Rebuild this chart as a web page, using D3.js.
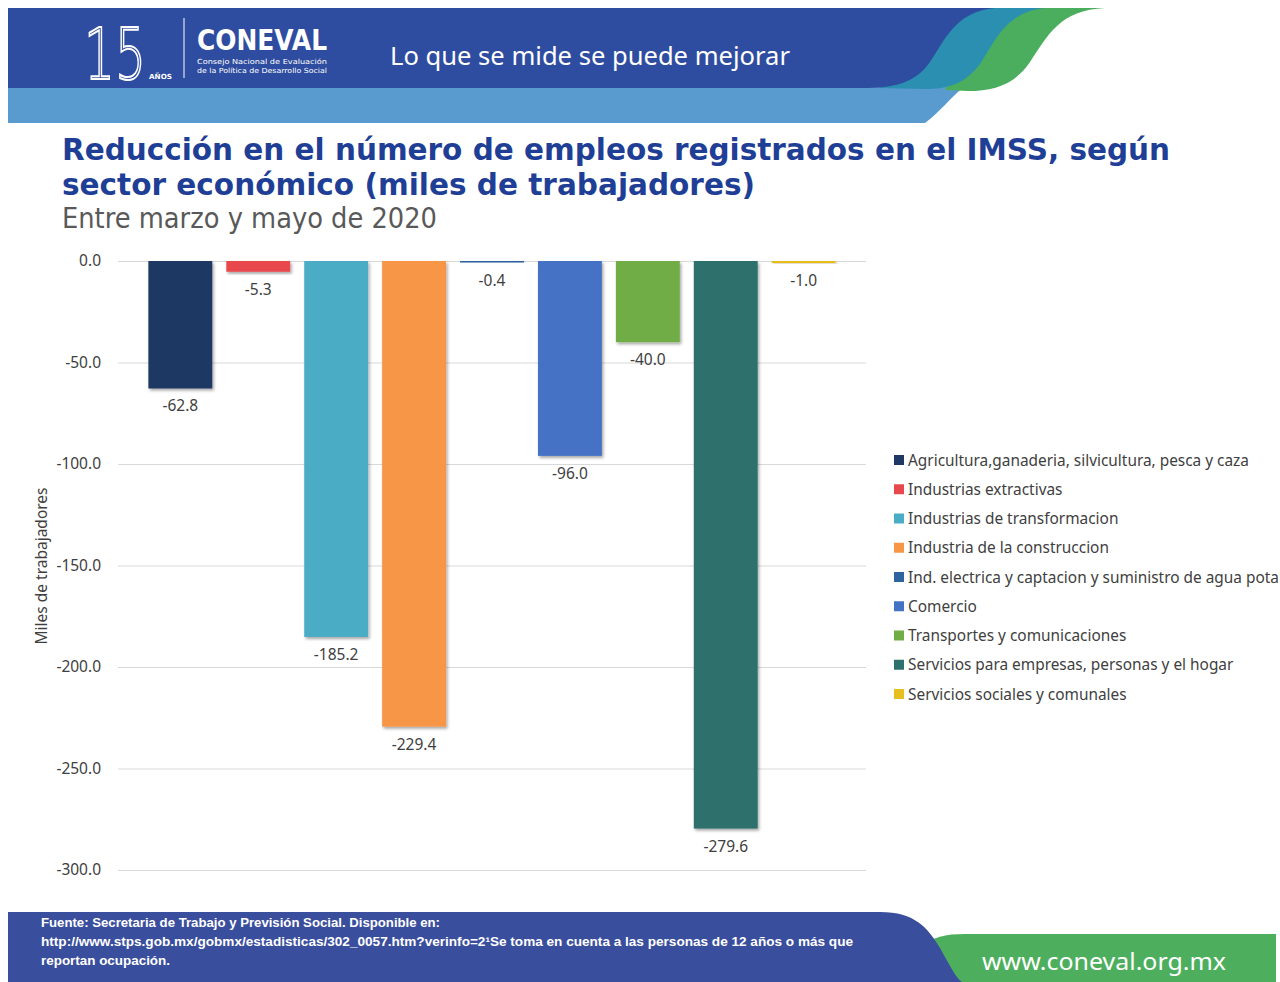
<!DOCTYPE html>
<html>
<head>
<meta charset="utf-8">
<script src="https://cdn.jsdelivr.net/npm/d3@7"></script>
<style>
  html, body { margin: 0; padding: 0; background: #fff; overflow: hidden; }
  svg { display: block; }
</style>
</head>
<body>
<svg id="chart" width="1280" height="982"></svg>
<script>
// series (one per sector, Excel style single category)
var sectores = [
  "Agricultura,ganaderia, silvicultura, pesca y caza",
  "Industrias extractivas",
  "Industrias de  transformacion",
  "Industria de la construccion",
  "Ind. electrica y captacion y suministro de agua potable",
  "Comercio",
  "Transportes y comunicaciones",
  "Servicios para empresas, personas y el hogar",
  "Servicios sociales y comunales"
];
var valores = [-62.8, -5.3, -185.2, -229.4, -0.4, -96.0, -40.0, -279.6, -1.0];
var colores = ["#1F3864", "#E8474C", "#4BACC6", "#F79646", "#2E64A0", "#4472C4", "#70AD47", "#2E716C", "#E6BE1E"];
var yTicks = [0, -50, -100, -150, -200, -250, -300];

var titulo1 = "Reducción en el número de empleos registrados en el IMSS, según";
var titulo2 = "sector económico (miles de trabajadores)";
var subtitulo = "Entre marzo y mayo de 2020";
var ejeY = "Miles de trabajadores";
var fuente = [
  "Fuente: Secretaria de Trabajo y Previsión Social. Disponible en:",
  "http://www.stps.gob.mx/gobmx/estadisticas/302_0057.htm?verinfo=2\u00b9Se toma en cuenta a las personas de 12 años o más que",
  "reportan ocupación."
];

var svg = d3.select("#chart");
var fmt = d3.formatLocale({decimal: ".", thousands: ",", grouping: [3], currency: ["$", ""], minus: "-"}).format(".1f");

var defs = svg.append("defs");
var sh = defs.append("filter").attr("id", "sombra").attr("x", "-20%").attr("y", "-20%").attr("width", "150%").attr("height", "150%");
sh.append("feDropShadow").attr("dx", 1.5).attr("dy", 2).attr("stdDeviation", 1.5).attr("flood-color", "#000").attr("flood-opacity", 0.35);

// ---- header banner ----
var head = svg.append("g");
head.append("path").attr("fill", "#5A9BCF")
  .attr("d", "M8,86 H965 C950,98 940,112 925,123 H8 Z");
head.append("path").attr("fill", "#4BAE5F")
  .attr("d", "M990,8 H1105 C1060,10 1048,35 1030,62 C1015,84 995,91 968,91 L945,90 Z");
head.append("path").attr("fill", "#2A8FB0")
  .attr("d", "M950,8 H1045 C1005,12 995,42 980,64 C965,84 948,89 925,89 L880,88 Z");
head.append("path").attr("fill", "#2F4DA0")
  .attr("d", "M8,8 H995 C955,12 945,40 930,62 C915,83 895,88 862,88 H8 Z");

// logo
head.append("text").attr("x", 84).attr("y", 79)
  .attr("font-family", "DejaVu Sans").attr("font-size", 72).attr("font-weight", 300)
  .attr("fill", "#2F4DA0").attr("stroke", "#fff").attr("stroke-width", 2)
  .attr("textLength", 62).attr("lengthAdjust", "spacingAndGlyphs")
  .text("15");
head.append("text").attr("x", 149).attr("y", 79)
  .attr("font-family", "DejaVu Sans").attr("font-size", 7).attr("font-weight", "bold")
  .attr("fill", "#fff").attr("textLength", 23).attr("lengthAdjust", "spacingAndGlyphs")
  .text("AÑOS");
head.append("line").attr("x1", 184).attr("x2", 184).attr("y1", 18).attr("y2", 78)
  .attr("stroke", "#fff").attr("stroke-width", 1);
head.append("text").attr("x", 197).attr("y", 50)
  .attr("font-family", "DejaVu Sans").attr("font-size", 28).attr("font-weight", "bold")
  .attr("fill", "#fff").attr("textLength", 130).attr("lengthAdjust", "spacingAndGlyphs")
  .text("CONEVAL");
head.append("text").attr("x", 197).attr("y", 64)
  .attr("font-family", "DejaVu Sans").attr("font-size", 7).attr("fill", "#fff")
  .attr("textLength", 130).attr("lengthAdjust", "spacingAndGlyphs")
  .text("Consejo Nacional de Evaluación");
head.append("text").attr("x", 197).attr("y", 73)
  .attr("font-family", "DejaVu Sans").attr("font-size", 7).attr("fill", "#fff")
  .attr("textLength", 130).attr("lengthAdjust", "spacingAndGlyphs")
  .text("de la Política de Desarrollo Social");
head.append("text").attr("x", 390).attr("y", 65)
  .attr("font-family", "Noto Sans").attr("font-size", 25).attr("fill", "#fff")
  .attr("textLength", 400).attr("lengthAdjust", "spacingAndGlyphs")
  .text("Lo que se mide se puede mejorar");

// ---- titles ----
svg.append("text").attr("x", 62).attr("y", 160)
  .attr("font-family", "DejaVu Sans").attr("font-weight", "bold").attr("font-size", 31)
  .attr("fill", "#1F3F96").attr("textLength", 1108).attr("lengthAdjust", "spacingAndGlyphs")
  .text(titulo1);
svg.append("text").attr("x", 62).attr("y", 195)
  .attr("font-family", "DejaVu Sans").attr("font-weight", "bold").attr("font-size", 31)
  .attr("fill", "#1F3F96").attr("textLength", 693).attr("lengthAdjust", "spacingAndGlyphs")
  .text(titulo2);
svg.append("text").attr("x", 62).attr("y", 228)
  .attr("font-family", "DejaVu Sans").attr("font-size", 28)
  .attr("fill", "#595959").attr("textLength", 375).attr("lengthAdjust", "spacingAndGlyphs")
  .text(subtitulo);

// ---- chart ----
var left = 118, right = 866;
var x = d3.scaleBand().domain(sectores).range([left, right]).paddingInner(0.18).paddingOuter(0.39);
var y = d3.scaleLinear().domain([0, -300]).range([261, 870]);

var grid = svg.append("g").attr("transform", "translate(" + left + ",0)")
  .call(d3.axisLeft(y).tickValues(yTicks).tickSize(-(right - left)).tickFormat(""));
grid.select(".domain").remove();
grid.selectAll("line").attr("stroke", "#D9D9D9").attr("stroke-width", 1);

var ax = svg.append("g").attr("transform", "translate(" + left + ",0)")
  .call(d3.axisLeft(y).tickValues(yTicks).tickSize(0).tickPadding(17).tickFormat(fmt));
ax.select(".domain").remove();
ax.selectAll("text").attr("font-family", "Noto Sans").attr("font-size", 15.5).attr("fill", "#404040");

svg.append("text")
  .attr("transform", "translate(47,566) rotate(-90)")
  .attr("text-anchor", "middle")
  .attr("font-family", "Noto Sans").attr("font-size", 15.5).attr("fill", "#404040")
  .text(ejeY);

svg.append("g").selectAll("rect")
  .data(valores)
  .enter()
  .append("rect")
  .attr("x", function(d, i) { return x(sectores[i]); })
  .attr("y", y(0))
  .attr("width", x.bandwidth())
  .attr("height", function(d) { return Math.max(1.5, y(d) - y(0)); })
  .attr("fill", function(d, i) { return colores[i]; })
  .attr("filter", "url(#sombra)");

svg.append("g").selectAll("text")
  .data(valores)
  .enter()
  .append("text")
  .attr("x", function(d, i) { return x(sectores[i]) + x.bandwidth() / 2; })
  .attr("y", function(d) { return Math.max(y(d), y(0) + 1.5) + 23; })
  .attr("text-anchor", "middle")
  .attr("font-family", "Noto Sans").attr("font-size", 15.5).attr("fill", "#404040")
  .text(function(d) { return fmt(d); });

// legend
var leg = svg.append("g").selectAll("g")
  .data(sectores)
  .enter()
  .append("g")
  .attr("transform", function(d, i) { return "translate(894," + (460 + i * 29.25) + ")"; });
leg.append("rect").attr("x", 0).attr("y", -5).attr("width", 10).attr("height", 10)
  .attr("fill", function(d, i) { return colores[i]; });
leg.append("text").attr("x", 14).attr("y", 5.5)
  .attr("font-family", "Noto Sans").attr("font-size", 15.4).attr("fill", "#404040")
  .text(function(d) { return d; });

// ---- footer ----
var foot = svg.append("g");
foot.append("path").attr("fill", "#4DAF5E")
  .attr("d", "M925,946 C932,937 945,934 965,934 H1276 V982 H940 Z");
foot.append("path").attr("fill", "#3A4E9E")
  .attr("d", "M8,912 H880 C915,912 928,928 940,948 C950,966 956,978 962,982 H8 Z");
foot.selectAll("text.fuente")
  .data(fuente)
  .enter()
  .append("text")
  .attr("class", "fuente")
  .attr("x", 41)
  .attr("y", function(d, i) { return 927 + i * 19; })
  .attr("font-family", "Liberation Sans Narrow, Liberation Sans").attr("font-weight", "bold")
  .attr("font-size", 12).attr("fill", "#fff")
  .attr("textLength", function(d, i) { return [399, 812, 129][i]; })
  .attr("lengthAdjust", "spacingAndGlyphs")
  .text(function(d) { return d; });
foot.append("text").attr("x", 982).attr("y", 970)
  .attr("font-family", "Noto Sans").attr("font-size", 24).attr("fill", "#fff")
  .attr("textLength", 244).attr("lengthAdjust", "spacingAndGlyphs")
  .text("www.coneval.org.mx");
</script>
</body>
</html>
